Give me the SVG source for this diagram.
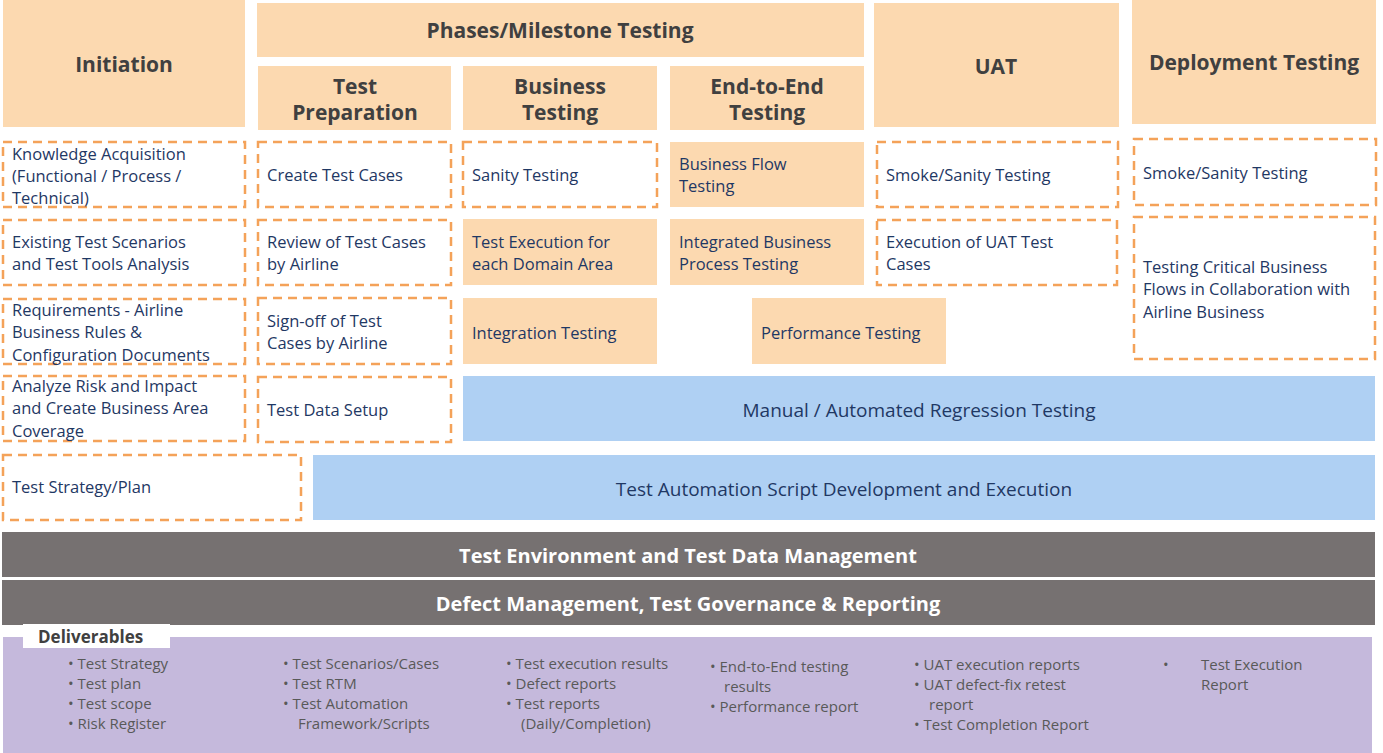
<svg xmlns="http://www.w3.org/2000/svg" width="1383" height="753" viewBox="0 0 1383 753">
<style>
text{font-family:"Open Sans","Noto Sans","DejaVu Sans",sans-serif}
.hd{fill:#fcd9b0}
.hdt{font-size:21px;font-weight:bold;fill:#404040;text-anchor:middle}
.ds{fill:#fff;stroke:#f4a259;stroke-width:2.5;stroke-dasharray:9 6}
.pk{fill:#fcd9b0}
.bl{fill:#afd0f3}
.t{font-size:16.5px;fill:#1f3864}
.tc{font-size:19px;fill:#1f3864;text-anchor:middle}
.gb{fill:#767171}
.gt{font-size:20px;font-weight:bold;fill:#fff;text-anchor:middle}
.d{font-size:15px;fill:#595959}
</style>
<rect width="1383" height="753" fill="#fff"/>
<g id="hdr-initiation"><rect class="hd" x="3" y="0" width="242" height="127"/><text class="hdt" x="124" y="72">Initiation</text></g>
<g id="hdr-phases"><rect class="hd" x="257" y="3" width="607" height="54"/><text class="hdt" x="560" y="38">Phases/Milestone Testing</text></g>
<g id="hdr-prep"><rect class="hd" x="258" y="66" width="193" height="64"/><text class="hdt" x="355" y="94">Test</text><text class="hdt" x="355" y="120">Preparation</text></g>
<g id="hdr-bus"><rect class="hd" x="463" y="66" width="194" height="64"/><text class="hdt" x="560" y="94">Business</text><text class="hdt" x="560" y="120">Testing</text></g>
<g id="hdr-e2e"><rect class="hd" x="670" y="66" width="194" height="64"/><text class="hdt" x="767" y="94">End-to-End</text><text class="hdt" x="767" y="120">Testing</text></g>
<g id="hdr-uat"><rect class="hd" x="874" y="3" width="245" height="124"/><text class="hdt" x="996" y="74">UAT</text></g>
<g id="hdr-deploy"><rect class="hd" x="1132" y="0" width="244" height="124"/><text class="hdt" x="1254" y="70">Deployment Testing</text></g>

<g id="n-know"><rect class="ds" x="3" y="142" width="242" height="65"/><text class="t" x="12" y="160">Knowledge Acquisition</text><text class="t" x="12" y="182">(Functional / Process /</text><text class="t" x="12" y="204">Technical)</text></g>
<g id="n-exist"><rect class="ds" x="3" y="220" width="242" height="65"/><text class="t" x="12" y="248">Existing Test Scenarios</text><text class="t" x="12" y="270">and Test Tools Analysis</text></g>
<g id="n-req"><rect class="ds" x="3" y="299" width="242" height="65"/><text class="t" x="12" y="316">Requirements - Airline</text><text class="t" x="12" y="338">Business Rules &amp;</text><text class="t" x="12" y="361">Configuration  Documents</text></g>
<g id="n-risk"><rect class="ds" x="3" y="376" width="242" height="65"/><text class="t" x="12" y="392">Analyze Risk and Impact</text><text class="t" x="12" y="414">and Create Business Area</text><text class="t" x="12" y="437">Coverage</text></g>
<g id="n-strat"><rect class="ds" x="3" y="455" width="298" height="65"/><text class="t" x="12" y="493">Test Strategy/Plan</text></g>

<g id="n-create"><rect class="ds" x="258" y="142" width="193" height="65"/><text class="t" x="267" y="181">Create Test Cases</text></g>
<g id="n-review"><rect class="ds" x="258" y="220" width="193" height="65"/><text class="t" x="267" y="248">Review of Test Cases</text><text class="t" x="267" y="270">by Airline</text></g>
<g id="n-signoff"><rect class="ds" x="258" y="298" width="193" height="66"/><text class="t" x="267" y="327">Sign-off of Test</text><text class="t" x="267" y="349">Cases by Airline</text></g>
<g id="n-data"><rect class="ds" x="258" y="377" width="193" height="65"/><text class="t" x="267" y="416">Test Data Setup</text></g>

<g id="n-sanity"><rect class="ds" x="463" y="142" width="194" height="65"/><text class="t" x="472" y="181">Sanity Testing</text></g>
<g id="n-exec"><rect class="pk" x="463" y="219" width="194" height="66"/><text class="t" x="472" y="248">Test Execution for</text><text class="t" x="472" y="270">each Domain Area</text></g>
<g id="n-integ"><rect class="pk" x="463" y="298" width="194" height="66"/><text class="t" x="472" y="339">Integration Testing</text></g>

<g id="n-flow"><rect class="pk" x="670" y="142" width="194" height="65"/><text class="t" x="679" y="170">Business Flow</text><text class="t" x="679" y="192">Testing</text></g>
<g id="n-intbp"><rect class="pk" x="670" y="219" width="194" height="66"/><text class="t" x="679" y="248">Integrated Business</text><text class="t" x="679" y="270">Process Testing</text></g>
<g id="n-perf"><rect class="pk" x="752" y="298" width="194" height="66"/><text class="t" x="761" y="339">Performance Testing</text></g>

<g id="n-uatsmoke"><rect class="ds" x="877" y="142" width="241" height="65"/><text class="t" x="886" y="181">Smoke/Sanity Testing</text></g>
<g id="n-uatexec"><rect class="ds" x="877" y="220" width="240" height="65"/><text class="t" x="886" y="248">Execution of UAT Test</text><text class="t" x="886" y="270">Cases</text></g>

<g id="n-depsmoke"><rect class="ds" x="1134" y="139" width="242" height="66"/><text class="t" x="1143" y="179">Smoke/Sanity Testing</text></g>
<g id="n-critical"><rect class="ds" x="1134" y="217" width="241" height="142"/><text class="t" x="1143" y="273">Testing Critical Business</text><text class="t" x="1143" y="295">Flows in Collaboration with</text><text class="t" x="1143" y="318">Airline Business</text></g>

<g id="n-regr"><rect class="bl" x="463" y="376" width="912" height="65"/><text class="tc" x="919" y="417">Manual / Automated Regression Testing</text></g>
<g id="n-auto"><rect class="bl" x="313" y="455" width="1062" height="65"/><text class="tc" x="844" y="496">Test Automation Script Development and Execution</text></g>

<g id="n-env"><rect class="gb" x="2" y="532" width="1373" height="45"/><text class="gt" x="688" y="563">Test Environment and Test Data Management</text></g>
<g id="n-defect"><rect class="gb" x="2" y="580" width="1373" height="45"/><text class="gt" x="688" y="611">Defect Management, Test Governance &amp; Reporting</text></g>

<g id="n-deliv">
<rect fill="#c5b9dc" x="3" y="637" width="1369" height="116"/>
<rect fill="#fff" x="23" y="624" width="147" height="24"/>
<text x="38" y="643" style="font-size:17px;font-weight:bold;fill:#404040">Deliverables</text>
<g class="d">
<text class="d" x="68" y="669">•  Test Strategy</text><text class="d" x="68" y="689">•  Test plan</text><text class="d" x="68" y="709">•  Test scope</text><text class="d" x="68" y="729">•  Risk Register</text>
<text class="d" x="283" y="669">•  Test Scenarios/Cases</text><text class="d" x="283" y="689">•  Test RTM</text><text class="d" x="283" y="709">•  Test Automation</text><text class="d" x="298" y="729">Framework/Scripts</text>
<text class="d" x="506" y="669">•  Test execution results</text><text class="d" x="506" y="689">•  Defect reports</text><text class="d" x="506" y="709">•  Test reports</text><text class="d" x="521" y="729">(Daily/Completion)</text>
<text class="d" x="710" y="672">•  End-to-End testing</text><text class="d" x="724" y="692">results</text><text class="d" x="710" y="712">•  Performance report</text>
<text class="d" x="914" y="670">•  UAT execution reports</text><text class="d" x="914" y="690">•  UAT defect-fix retest</text><text class="d" x="929" y="710">report</text><text class="d" x="914" y="730">•  Test Completion Report</text>
<text class="d" x="1163" y="670">•</text><text class="d" x="1201" y="670">Test Execution</text><text class="d" x="1201" y="690">Report</text>
</g>
</g>
<g id="connectors"/>
</svg>
